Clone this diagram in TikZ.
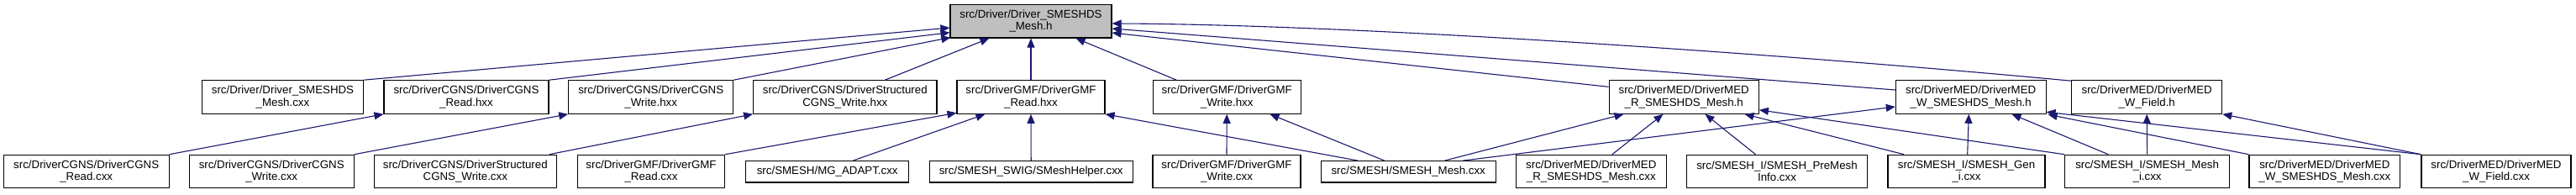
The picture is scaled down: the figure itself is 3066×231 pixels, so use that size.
\documentclass[tikz,border=0pt]{standalone}
\usepackage{fontspec}
\setmainfont{Liberation Sans}
\usetikzlibrary{arrows.meta,calc}
\definecolor{edgeblue}{HTML}{191970}
\definecolor{rootgray}{HTML}{BFBFBF}
\begin{document}
\begin{tikzpicture}[x=1pt,y=-1pt,
  box/.style={draw=black, line width=1.1pt, fill=white, inner sep=0pt, align=center,
    font=\fontsize{13.3}{14.3}\selectfont, minimum height=39.5pt},
  onebox/.style={box, minimum height=25.3pt},
  edge/.style={draw=edgeblue, line width=1.1pt, -{Triangle[length=11pt,width=9pt]}}]
\useasboundingbox (0,0) rectangle (3066,231);
% row 0
\node[box, fill=rootgray, minimum width=192pt] (root) at (1227,25.25) {src/Driver/Driver\_SMESHDS\\\_Mesh.h};
% row 1
\node[box, minimum width=191.6pt] (dsmc) at (336.5,115.5) {src/Driver/Driver\_SMESHDS\\\_Mesh.cxx};
\node[box, minimum width=196pt] (cgnsrh) at (555,115.5) {src/DriverCGNS/DriverCGNS\\\_Read.hxx};
\node[box, minimum width=196pt] (cgnswh) at (774.7,115.5) {src/DriverCGNS/DriverCGNS\\\_Write.hxx};
\node[box, minimum width=218.3pt] (scgnswh) at (1005.8,115.5) {src/DriverCGNS/DriverStructured\\CGNS\_Write.hxx};
\node[box, minimum width=176pt] (gmfrh) at (1227,115.5) {src/DriverGMF/DriverGMF\\\_Read.hxx};
\node[box, minimum width=176.3pt] (gmfwh) at (1460.2,115.5) {src/DriverGMF/DriverGMF\\\_Write.hxx};
\node[box, minimum width=178.3pt] (medrh) at (2004.2,115.5) {src/DriverMED/DriverMED\\\_R\_SMESHDS\_Mesh.h};
\node[box, minimum width=178.7pt] (medwh) at (2345.7,115.5) {src/DriverMED/DriverMED\\\_W\_SMESHDS\_Mesh.h};
\node[box, minimum width=179pt] (wfh) at (2555.2,115.5) {src/DriverMED/DriverMED\\\_W\_Field.h};
% row 2
\node[box, minimum width=196.7pt] (cgnsrc) at (102.7,204) {src/DriverCGNS/DriverCGNS\\\_Read.cxx};
\node[box, minimum width=195.7pt] (cgnswc) at (323.2,204) {src/DriverCGNS/DriverCGNS\\\_Write.cxx};
\node[box, minimum width=217pt] (scgnswc) at (553.8,204) {src/DriverCGNS/DriverStructured\\CGNS\_Write.cxx};
\node[box, minimum width=175.4pt] (gmfrc) at (775,204) {src/DriverGMF/DriverGMF\\\_Read.cxx};
\node[onebox, minimum width=194pt] (mg) at (984.7,204.3) {src/SMESH/MG\_ADAPT.cxx};
\node[onebox, minimum width=242.3pt] (swig) at (1227.2,204.3) {src/SMESH\_SWIG/SMeshHelper.cxx};
\node[box, minimum width=176pt] (gmfwc) at (1460,204) {src/DriverGMF/DriverGMF\\\_Write.cxx};
\node[onebox, minimum width=207.7pt] (smesh) at (1676.2,204.3) {src/SMESH/SMESH\_Mesh.cxx};
\node[box, minimum width=179pt] (medrc) at (1893.8,204) {src/DriverMED/DriverMED\\\_R\_SMESHDS\_Mesh.cxx};
\node[box, minimum width=214.6pt] (premesh) at (2115,204) {src/SMESH\_I/SMESH\_PreMesh\\Info.cxx};
\node[box, minimum width=187pt] (geni) at (2340.5,204) {src/SMESH\_I/SMESH\_Gen\\\_i.cxx};
\node[box, minimum width=196pt] (meshi) at (2555.6,204) {src/SMESH\_I/SMESH\_Mesh\\\_i.cxx};
\node[box, minimum width=179.7pt] (medwc) at (2766.8,204) {src/DriverMED/DriverMED\\\_W\_SMESHDS\_Mesh.cxx};
\node[box, minimum width=178pt] (wfc) at (2971,204) {src/DriverMED/DriverMED\\\_W\_Field.cxx};
% edges to root
\draw[edge] (dsmc.north east) -- ($(root.west)+(0,7.75)$);
\draw[edge] (cgnsrh.north east) -- ($(root.west)+(0,13.5)$);
\draw[edge] (cgnswh.north east) -- ($(root.south west)+(1,-1)$);
\draw[edge] ($(scgnswh.north)+(47.5,0)$) -- ($(root.south west)+(47,0)$);
\draw[edge] (gmfrh.north) -- (root.south);
\draw[edge] ($(gmfwh.north)+(-60,0)$) -- ($(root.south east)+(-43,0)$);
\draw[edge] ($(medrh.west)+(0,-12.2)$) -- ($(root.east)+(0,13.75)$);
\draw[edge] ($(medwh.west)+(0,-8.5)$) -- ($(root.east)+(0,8.75)$);
\draw[edge] ($(wfh.north west)+(0,1)$) .. controls (2100,62) and (1600,29) .. ($(root.east)+(0,2.75)$);
% edges to row 1
\draw[edge] (cgnsrc.north east) -- (cgnsrh.south west);
\draw[edge] (cgnswc.north east) -- (cgnswh.south west);
\draw[edge] ($(scgnswc.north east)+(-9,0)$) -- (scgnswh.south west);
\draw[edge] (gmfrc.north east) -- ($(gmfrh.south west)+(0,-1.5)$);
\draw[edge] ($(mg.north east)+(-67,0)$) -- ($(gmfrh.south west)+(34,0)$);
\draw[edge] (swig.north) -- (gmfrh.south);
\draw[edge] ($(smesh.north west)+(44.4,0)$) -- (gmfrh.south east);
\draw[edge] (gmfwc.north) -- (gmfwh.south);
\draw[edge] ($(smesh.north west)+(76,0)$) -- ($(gmfwh.south west)+(140,0)$);
\draw[edge] ($(smesh.north west)+(147.7,0)$) -- ($(medrh.south west)+(18,0)$);
\draw[edge] ($(smesh.north west)+(169.4,0)$) -- ($(medwh.west)+(0,11.5)$);
\draw[edge] ($(medrc.north east)+(-65,0)$) -- ($(medrh.south west)+(65,0)$);
\draw[edge] ($(premesh.north west)+(82.3,0)$) -- ($(medrh.south west)+(115,0)$);
\draw[edge] ($(geni.north west)+(19.7,0)$) -- ($(medrh.south west)+(162,0)$);
\draw[edge] (meshi.north west) -- ($(medrh.south east)+(0,-5)$);
\draw[edge] ($(geni.north)+(1.2,0)$) -- ($(medwh.south)+(-2.4,0)$);
\draw[edge] ($(meshi.north west)+(52.3,0)$) -- ($(medwh.south west)+(138.7,0)$);
\draw[edge] (medwc.north west) -- ($(medwh.south east)+(2,0.5)$);
\draw[edge] (wfc.north west) -- ($(medwh.south east)+(0,-2.5)$);
\draw[edge] (meshi.north) -- (wfh.south);
\draw[edge] (wfc.north west) -- (wfh.south east);
\end{tikzpicture}
\end{document}
